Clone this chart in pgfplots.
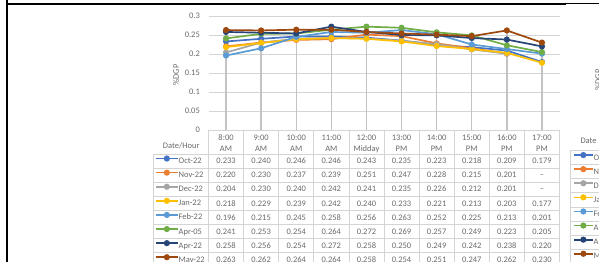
\documentclass[border=0pt]{standalone}
\usepackage{fontspec}
\setmainfont{Carlito}
\usepackage{pgfplots}
\pgfplotsset{compat=1.18}
\usepackage{pgfplotstable}

\definecolor{cOct}{RGB}{68,114,196}
\definecolor{cNov}{RGB}{237,125,49}
\definecolor{cDec}{RGB}{165,165,165}
\definecolor{cJan}{RGB}{255,192,0}
\definecolor{cFeb}{RGB}{91,155,213}
\definecolor{cAprA}{RGB}{112,173,71}
\definecolor{cAprB}{RGB}{38,68,120}
\definecolor{cMay}{RGB}{158,72,14}
\definecolor{txt}{RGB}{105,105,105}
\definecolor{tbl}{RGB}{212,212,212}
\definecolor{drop}{RGB}{195,195,195}

\newcommand\fs{\fontsize{8.5}{11}\selectfont}

\pgfplotstableread{
x   oct   nov   dec   jan   feb   aprA  aprB  may   top
0.5 0.233 0.220 0.204 0.218 0.196 0.241 0.258 0.263 0.263
1.5 0.240 0.230 0.230 0.229 0.215 0.253 0.256 0.262 0.262
2.5 0.246 0.237 0.240 0.239 0.245 0.254 0.254 0.264 0.264
3.5 0.246 0.239 0.242 0.242 0.258 0.264 0.272 0.264 0.272
4.5 0.243 0.251 0.241 0.240 0.256 0.272 0.258 0.258 0.272
5.5 0.235 0.247 0.235 0.233 0.263 0.269 0.250 0.254 0.269
6.5 0.223 0.228 0.226 0.221 0.252 0.257 0.249 0.251 0.257
7.5 0.218 0.215 0.212 0.213 0.225 0.249 0.242 0.247 0.249
8.5 0.209 0.201 0.201 0.203 0.213 0.223 0.238 0.262 0.262
9.5 0.179 nan   nan   0.177 0.201 0.205 0.220 0.230 0.230
}\data

\begin{document}
\begin{tikzpicture}
\begin{scope}
\clip (0,0) rectangle (599bp,262bp);
\begin{scope}[x=1bp,y=1bp]
% table grid
\begin{scope}[draw=tbl, line width=0.7bp]
\foreach \k in {0,...,10} \draw (208.5+35.1*\k,132) -- (208.5+35.1*\k,0);
\foreach \k in {0,...,8} \draw (153,108-14.1*\k) -- (559.5,108-14.1*\k);
\draw (153,108) -- (153,0);
\draw (570,111.5) -- (570,0);
\foreach \k in {0,...,8} \draw (570,111.5-14.1*\k) -- (599,111.5-14.1*\k);
\end{scope}
\end{scope}

\begin{axis}[
  at={(208.5bp,132bp)}, anchor=south west, scale only axis,
  width=351bp, height=114bp,
  xmin=0, xmax=10, ymin=0, ymax=0.3,
  xtick={0.5,1.5,2.5,3.5,4.5,5.5,6.5,7.5,8.5,9.5},
  xticklabels={{8:00\\AM},{9:00\\AM},{10:00\\AM},{11:00\\AM},{12:00\\Midday},{13:00\\PM},{14:00\\PM},{15:00\\PM},{16:00\\PM},{17:00\\PM}},
  xticklabel style={align=center, font=\fs, text=txt, inner sep=0pt, yshift=-4.8bp},
  ytick={0,0.05,0.1,0.15,0.2,0.25,0.3},
  scaled y ticks=false,
  /pgf/number format/assume math mode=true,
  yticklabel style={font=\fs, text=txt, inner sep=0pt, xshift=-8.5bp,
    /pgf/number format/fixed, /pgf/number format/precision=2},
  ymajorgrids, grid style={draw=tbl, line width=0.7bp},
  axis x line*=bottom, axis y line*=left,
  axis line style={draw=none}, major tick length=0pt,
  ylabel={\%DGP},
  every axis y label/.style={at={(axis description cs:-0.0926,0.482)}, rotate=90, anchor=center, font=\fs, text=txt},
  legend cell align=left,
  legend style={at={(axis description cs:-0.15242,-0.2105)}, anchor=north west,
    draw=none, fill=none, inner sep=0pt, outer sep=0pt, row sep=0pt, column sep=0pt,
    font=\fs, text=txt,
    nodes={inner sep=0pt, minimum height=14.1bp, text height=5bp, text depth=0bp}},
  legend image code/.code={\draw[#1, mark repeat=2, mark phase=2] plot coordinates {(0bp,2.5bp) (11bp,2.5bp) (22bp,2.5bp)};},
  every axis plot/.append style={line width=1.7bp, mark=*, mark size=2.2bp, mark options={solid}},
]
\addplot[ycomb, draw=drop, line width=1.4bp, no marks, forget plot] table[x=x,y=top]{\data};
\addplot[cOct]  table[x=x,y=oct]{\data};  \addlegendentry{Oct-22}
\addplot[cNov]  table[x=x,y=nov]{\data};  \addlegendentry{Nov-22}
\addplot[cDec]  table[x=x,y=dec]{\data};  \addlegendentry{Dec-22}
\addplot[cJan]  table[x=x,y=jan]{\data};  \addlegendentry{Jan-22}
\addplot[cFeb]  table[x=x,y=feb]{\data};  \addlegendentry{Feb-22}
\addplot[cAprA] table[x=x,y=aprA]{\data}; \addlegendentry{Apr-05}
\addplot[cAprB] table[x=x,y=aprB]{\data}; \addlegendentry{Apr-22}
\addplot[cMay]  table[x=x,y=may]{\data};  \addlegendentry{May-22}
\end{axis}

% right, cropped second chart legend
\begin{axis}[
  at={(573bp,0bp)}, anchor=south west, scale only axis, width=20bp, height=100bp,
  hide axis, xmin=0, xmax=1, ymin=0, ymax=1,
  legend cell align=left,
  legend style={at={(axis description cs:0,1.115)}, anchor=north west,
    draw=none, fill=none, inner sep=0pt, outer sep=0pt, row sep=0pt, column sep=0pt,
    font=\fs, text=txt,
    nodes={inner sep=0pt, minimum height=14.1bp, text height=5bp, text depth=0bp}},
  legend image code/.code={\draw[#1, mark repeat=2, mark phase=2] plot coordinates {(0bp,2.5bp) (9.5bp,2.5bp) (19bp,2.5bp)};},
]
\addlegendimage{cOct, line width=1.7bp, mark=*, mark size=2.2bp}  \addlegendentry{Oct-22}
\addlegendimage{cNov, line width=1.7bp, mark=*, mark size=2.2bp}  \addlegendentry{Nov-22}
\addlegendimage{cDec, line width=1.7bp, mark=*, mark size=2.2bp}  \addlegendentry{Dec-22}
\addlegendimage{cJan, line width=1.7bp, mark=*, mark size=2.2bp}  \addlegendentry{Jan-22}
\addlegendimage{cFeb, line width=1.7bp, mark=*, mark size=2.2bp}  \addlegendentry{Feb-22}
\addlegendimage{cAprA, line width=1.7bp, mark=*, mark size=2.2bp} \addlegendentry{Apr-05}
\addlegendimage{cAprB, line width=1.7bp, mark=*, mark size=2.2bp} \addlegendentry{Apr-22}
\addlegendimage{cMay, line width=1.7bp, mark=*, mark size=2.2bp}  \addlegendentry{May-22}
\end{axis}

\begin{scope}[x=1bp,y=1bp]
% table text
\node[font=\fs, text=txt, anchor=base east] at (203,114) {Date/Hour};
\node[font=\fs, text=txt, anchor=base west] at (577,119) {Date};
\node[font=\fs, text=txt, rotate=90] at (598,182) {\%DGP};
\foreach \vals [count=\r from 0] in {
  {0.233,0.240,0.246,0.246,0.243,0.235,0.223,0.218,0.209,0.179},
  {0.220,0.230,0.237,0.239,0.251,0.247,0.228,0.215,0.201,--},
  {0.204,0.230,0.240,0.242,0.241,0.235,0.226,0.212,0.201,--},
  {0.218,0.229,0.239,0.242,0.240,0.233,0.221,0.213,0.203,0.177},
  {0.196,0.215,0.245,0.258,0.256,0.263,0.252,0.225,0.213,0.201},
  {0.241,0.253,0.254,0.264,0.272,0.269,0.257,0.249,0.223,0.205},
  {0.258,0.256,0.254,0.272,0.258,0.250,0.249,0.242,0.238,0.220},
  {0.263,0.262,0.264,0.264,0.258,0.254,0.251,0.247,0.262,0.230}}{
  \foreach \v [count=\c from 0] in \vals {
    \node[font=\fs, text=txt, anchor=base, inner sep=0pt] at (226.05+35.1*\c, 98.3-14.1*\r) {\v};
  }
}
% screenshot frame lines
\draw[line width=2bp] (6,258) -- (565.5,258);
\draw[line width=1bp] (565.5,258) -- (599,258);
\draw[line width=1.7bp] (6.8,262) -- (6.8,0);
\end{scope}
\end{scope}
\pgfresetboundingbox
\useasboundingbox (0,0) rectangle (599bp,262bp);
\end{tikzpicture}
\end{document}
